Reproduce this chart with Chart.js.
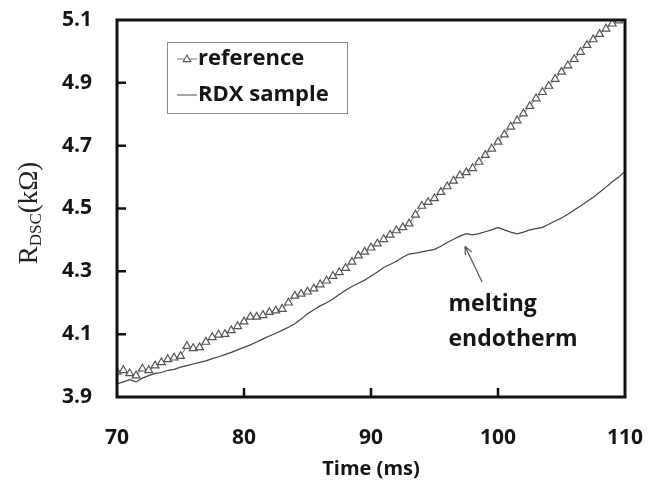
<!DOCTYPE html>
<html>
<head>
<meta charset="utf-8">
<script src="https://cdn.jsdelivr.net/npm/chart.js@4.4.0/dist/chart.umd.min.js"></script>
<style>
    html, body { margin: 0; padding: 0; background: #fff; }
    #wrap { width: 660px; height: 483px; }
</style>
</head>
<body>
<div id="wrap"><canvas id="rdxChart" width="660" height="483"></canvas></div>
<script>
// time (ms), one reading every 0.5 ms
const times = [
    70, 70.5, 71, 71.5, 72, 72.5, 73, 73.5, 74, 74.5,
    75, 75.5, 76, 76.5, 77, 77.5, 78, 78.5, 79, 79.5,
    80, 80.5, 81, 81.5, 82, 82.5, 83, 83.5, 84, 84.5,
    85, 85.5, 86, 86.5, 87, 87.5, 88, 88.5, 89, 89.5,
    90, 90.5, 91, 91.5, 92, 92.5, 93, 93.5, 94, 94.5,
    95, 95.5, 96, 96.5, 97, 97.5, 98, 98.5, 99, 99.5,
    100, 100.5, 101, 101.5, 102, 102.5, 103, 103.5, 104, 104.5,
    105, 105.5, 106, 106.5, 107, 107.5, 108, 108.5, 109, 109.5,
    110
];

// R_DSC (kOhm) of the reference trace (ends at 109.5 ms)
const referenceValues = [
    3.980, 3.985, 3.975, 3.968, 3.990, 3.985, 4.000, 4.010, 4.020, 4.025,
    4.030, 4.062, 4.055, 4.058, 4.075, 4.090, 4.098, 4.100, 4.112, 4.125,
    4.140, 4.155, 4.155, 4.160, 4.170, 4.175, 4.180, 4.200, 4.222, 4.228,
    4.235, 4.245, 4.258, 4.270, 4.285, 4.297, 4.310, 4.330, 4.350, 4.362,
    4.375, 4.388, 4.402, 4.416, 4.430, 4.440, 4.452, 4.480, 4.508, 4.520,
    4.532, 4.552, 4.570, 4.588, 4.605, 4.615, 4.628, 4.648, 4.670, 4.690,
    4.712, 4.735, 4.760, 4.780, 4.802, 4.826, 4.850, 4.870, 4.890, 4.912,
    4.935, 4.955, 4.975, 4.998, 5.020, 5.038, 5.055, 5.072, 5.088, 5.098
];

// R_DSC (kOhm) of the RDX sample
const rdxValues = [
    3.942, 3.948, 3.955, 3.948, 3.960, 3.968, 3.975, 3.978, 3.985, 3.988,
    3.995, 4.000, 4.005, 4.010, 4.015, 4.022, 4.028, 4.035, 4.042, 4.050,
    4.058, 4.066, 4.075, 4.085, 4.094, 4.103, 4.112, 4.122, 4.133, 4.148,
    4.165, 4.178, 4.190, 4.200, 4.212, 4.226, 4.240, 4.252, 4.262, 4.272,
    4.285, 4.298, 4.312, 4.322, 4.332, 4.345, 4.355, 4.358, 4.362, 4.366,
    4.370, 4.380, 4.392, 4.402, 4.412, 4.420, 4.416, 4.420, 4.426, 4.432,
    4.440, 4.432, 4.425, 4.419, 4.425, 4.432, 4.436, 4.440, 4.450, 4.460,
    4.470, 4.482, 4.495, 4.508, 4.522, 4.536, 4.552, 4.568, 4.585, 4.600,
    4.618
];

const seriesNames = ['reference', 'RDX sample'];
const xTicks = [70, 80, 90, 100, 110];
const yTicks = [3.9, 4.1, 4.3, 4.5, 4.7, 4.9, 5.1];

// annotation text and arrow (data coordinates)
const noteLines = ['melting', 'endotherm'];
const noteAnchor = { x: 96.1, y: 4.196 };
const arrowFrom = { x: 98.75, y: 4.266 };
const arrowTo = { x: 97.4, y: 4.38 };

const LABEL_FONT = '"Open Sans", Lato, sans-serif';
const INK = '#151515';

document.addEventListener('DOMContentLoaded', function() {
    drawChart();
});

function toPoints(values) {
    return values.map((v, i) => ({ x: times[i], y: v }));
}

// frame, inward ticks, y title, legend and the note
const overlayPlugin = {
    id: 'overlay',
    afterDraw(chart) {
        const ctx = chart.ctx;
        const area = chart.chartArea;
        const xs = chart.scales.x;
        const ys = chart.scales.y;

        ctx.save();

        // plot frame
        ctx.strokeStyle = '#111';
        ctx.lineWidth = 3;
        ctx.strokeRect(area.left, area.top, area.right - area.left, area.bottom - area.top);

        // inward tick marks
        ctx.lineWidth = 2.5;
        ctx.beginPath();
        yTicks.slice(1, -1).forEach(v => {
            const y = ys.getPixelForValue(v);
            ctx.moveTo(area.left, y);
            ctx.lineTo(area.left + 9, y);
        });
        xTicks.slice(1, -1).forEach(v => {
            const x = xs.getPixelForValue(v);
            ctx.moveTo(x, area.bottom);
            ctx.lineTo(x, area.bottom - 9);
        });
        ctx.stroke();

        // y axis title R_DSC(kΩ)
        drawYTitle(ctx, 30, 213);

        // legend box
        const lx = area.left + 50, ly = area.top + 22;
        ctx.strokeStyle = '#8a8a8a';
        ctx.lineWidth = 1;
        ctx.strokeRect(lx + 0.5, ly + 0.5, 180, 71);

        const rows = [ly + 17, ly + 53];
        ctx.strokeStyle = '#777';
        ctx.beginPath();
        ctx.moveTo(lx + 10, rows[0]);
        ctx.lineTo(lx + 30, rows[0]);
        ctx.stroke();
        drawTriangle(ctx, lx + 20, rows[0], 4);

        ctx.strokeStyle = '#777';
        ctx.lineWidth = 1.3;
        ctx.beginPath();
        ctx.moveTo(lx + 10, rows[1]);
        ctx.lineTo(lx + 30, rows[1]);
        ctx.stroke();

        ctx.fillStyle = INK;
        ctx.font = 'bold 22px ' + LABEL_FONT;
        ctx.textAlign = 'left';
        ctx.textBaseline = 'middle';
        ctx.fillText(seriesNames[0], lx + 31, rows[0]);
        ctx.fillText(seriesNames[1], lx + 31, rows[1]);

        // melting endotherm note
        const nx = xs.getPixelForValue(noteAnchor.x);
        const ny = ys.getPixelForValue(noteAnchor.y);
        ctx.font = 'bold 23px ' + LABEL_FONT;
        ctx.fillText(noteLines[0], nx, ny);
        ctx.fillText(noteLines[1], nx, ny + 35);

        // arrow pointing at the curve
        const ax = xs.getPixelForValue(arrowFrom.x), ay = ys.getPixelForValue(arrowFrom.y);
        const bx = xs.getPixelForValue(arrowTo.x), by = ys.getPixelForValue(arrowTo.y);
        const ang = Math.atan2(by - ay, bx - ax);
        ctx.strokeStyle = '#555';
        ctx.lineWidth = 1.2;
        ctx.beginPath();
        ctx.moveTo(ax, ay);
        ctx.lineTo(bx, by);
        ctx.moveTo(bx, by);
        ctx.lineTo(bx - 9 * Math.cos(ang - 0.4), by - 9 * Math.sin(ang - 0.4));
        ctx.moveTo(bx, by);
        ctx.lineTo(bx - 9 * Math.cos(ang + 0.4), by - 9 * Math.sin(ang + 0.4));
        ctx.stroke();

        ctx.restore();
    }
};

function drawTriangle(ctx, x, y, r) {
    ctx.save();
    ctx.fillStyle = '#fff';
    ctx.strokeStyle = '#555';
    ctx.lineWidth = 1.1;
    ctx.beginPath();
    ctx.moveTo(x, y - r);
    ctx.lineTo(x + r * 0.95, y + r * 0.65);
    ctx.lineTo(x - r * 0.95, y + r * 0.65);
    ctx.closePath();
    ctx.fill();
    ctx.stroke();
    ctx.restore();
}

function drawYTitle(ctx, cx, cy) {
    const big = '27px "Liberation Serif", "Times New Roman", serif';
    const small = '17px "Liberation Serif", "Times New Roman", serif';
    ctx.save();
    ctx.translate(cx, cy);
    ctx.rotate(-Math.PI / 2);
    ctx.fillStyle = '#222';
    ctx.textBaseline = 'middle';
    ctx.textAlign = 'left';

    ctx.font = big;
    const w1 = ctx.measureText('R').width;
    const w3 = ctx.measureText('(k\u03A9)').width;
    ctx.font = small;
    const w2 = ctx.measureText('DSC').width;
    let x = -(w1 + w2 + w3) / 2;

    ctx.font = big;
    ctx.fillText('R', x, 0);
    x += w1;
    ctx.font = small;
    ctx.fillText('DSC', x, 7);
    x += w2;
    ctx.font = big;
    ctx.fillText('(k\u03A9)', x, 0);
    ctx.restore();
}

function drawChart() {
    const ctx = document.getElementById('rdxChart');
    new Chart(ctx, {
        type: 'line',
        data: {
            datasets: [{
                label: seriesNames[0],
                data: toPoints(referenceValues),
                borderColor: '#6a6a6a',
                borderWidth: 1,
                pointStyle: 'triangle',
                pointRadius: 4.5,
                pointBorderColor: '#555',
                pointBackgroundColor: '#fff',
                pointBorderWidth: 1.2,
                tension: 0
            }, {
                label: seriesNames[1],
                data: toPoints(rdxValues),
                borderColor: '#444',
                borderWidth: 1.2,
                pointRadius: 0,
                tension: 0
            }]
        },
        options: {
            responsive: false,
            animation: false,
            layout: {
                padding: { top: 20, right: 35, left: 0, bottom: 0 }
            },
            plugins: {
                legend: { display: false },
                tooltip: { enabled: false }
            },
            scales: {
                x: {
                    type: 'linear',
                    min: 70,
                    max: 110,
                    afterBuildTicks: scale => { scale.ticks = xTicks.map(v => ({ value: v })); },
                    afterFit: scale => {
                        scale.height = 86;
                        scale.paddingLeft = 0;
                        scale.paddingRight = 0;
                    },
                    grid: { display: false, drawTicks: false },
                    border: { display: false },
                    ticks: {
                        padding: 28,
                        color: INK,
                        font: { family: LABEL_FONT, size: 21, weight: 'bold' }
                    },
                    title: {
                        display: true,
                        text: 'Time (ms)',
                        color: INK,
                        padding: { top: 0, bottom: 2 },
                        font: { family: LABEL_FONT, size: 20, weight: 'bold' }
                    }
                },
                y: {
                    min: 3.9,
                    max: 5.1,
                    afterBuildTicks: scale => { scale.ticks = yTicks.map(v => ({ value: v })); },
                    afterFit: scale => {
                        scale.width = 117;
                        scale.paddingTop = 0;
                        scale.paddingBottom = 0;
                    },
                    grid: { display: false, drawTicks: false },
                    border: { display: false },
                    ticks: {
                        padding: 25,
                        color: INK,
                        font: { family: LABEL_FONT, size: 21, weight: 'bold' },
                        callback: v => v.toFixed(1)
                    }
                }
            }
        },
        plugins: [overlayPlugin]
    });
}
</script>
</body>
</html>
